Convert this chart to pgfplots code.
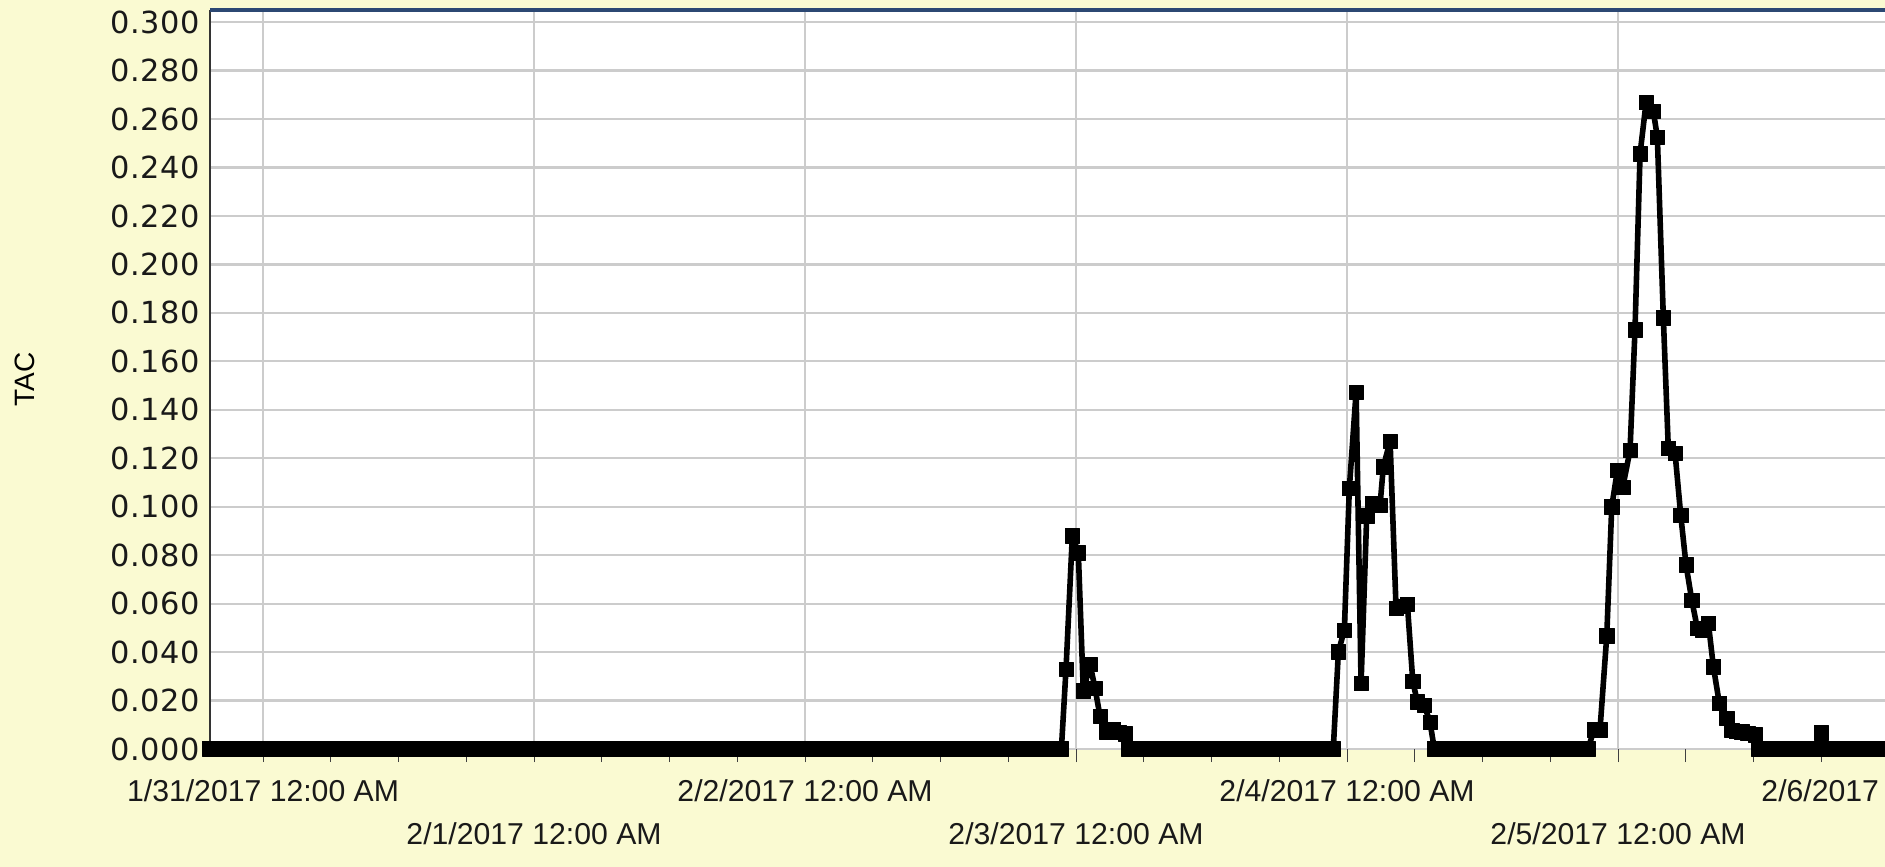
\documentclass[border=0pt]{standalone}
\usepackage{pgfplots}
\pgfplotsset{compat=1.18}
\usepackage{fontspec}
\setmainfont{Liberation Sans}
\newfontfamily\yfont[LetterSpace=2]{DejaVu Sans}
\definecolor{bgyellow}{RGB}{250,250,210}
\definecolor{gridgray}{RGB}{204,204,204}
\definecolor{topnavy}{RGB}{44,72,115}
\begin{document}
\begin{tikzpicture}
\fill[bgyellow] (-105pt,-59pt) rectangle (837.5pt,374.5pt);
\begin{axis}[
  name=ax, at={(0,0)}, anchor=south west,
  scale only axis, width=873.4pt, height=369.5pt,
  xmin=-4.7, xmax=150, ymin=0, ymax=0.305,
  clip=false,
  axis background/.style={fill=white},
  axis line style={draw=none},
  xtick pos=bottom, ytick pos=left,
  xtick={0,48,96,144},
  xticklabels={1/31/2017 12:00 AM,2/2/2017 12:00 AM,2/4/2017 12:00 AM,2/6/2017 12:00 AM},
  extra x ticks={24,72,120},
  extra x tick labels={2/1/2017 12:00 AM,2/3/2017 12:00 AM,2/5/2017 12:00 AM},
  extra x tick style={grid=major, xticklabel style={yshift=-21.5pt}},
  minor xtick={6,12,...,150},
  tick align=outside,
  major tick length=6.5pt, minor tick length=6.5pt,
  xtick style={black!75, line width=0.5pt},
  ytick={0,0.02,...,0.3001},
  ytick style={draw=none},
  scaled y ticks=false,
  yticklabel style={/pgf/number format/fixed, /pgf/number format/fixed zerofill, /pgf/number format/precision=3, /pgf/number format/assume math mode=true, font=\yfont\fontsize{15.2}{17}\selectfont, black!90, xshift=5pt},
  xticklabel style={font=\fontsize{15.1}{18}\selectfont, yshift=-5.3pt, black!90},
  grid=major,
  major grid style={gridgray, line width=1.1pt},
  ylabel={TAC},
  every axis y label/.style={at={(axis description cs:-0.1059,0.5)}, rotate=90, anchor=center, font=\fontsize{14}{16}\selectfont},
]
\addplot[black, line width=2.8pt, line join=round, mark=square*, mark size=3.6pt, mark options={solid, fill=black, draw=black, line width=0.3pt}] coordinates {
(-4.7,0) (-4,0) (-3,0) (-2,0) (-1,0) (0,0) (1,0) (2,0) (3,0) (4,0)
(5,0) (6,0) (7,0) (8,0) (9,0) (10,0) (11,0) (12,0) (13,0) (14,0)
(15,0) (16,0) (17,0) (18,0) (19,0) (20,0) (21,0) (22,0) (23,0) (24,0)
(25,0) (26,0) (27,0) (28,0) (29,0) (30,0) (31,0) (32,0) (33,0) (34,0)
(35,0) (36,0) (37,0) (38,0) (39,0) (40,0) (41,0) (42,0) (43,0) (44,0)
(45,0) (46,0) (47,0) (48,0) (49,0) (50,0) (51,0) (52,0) (53,0) (54,0)
(55,0) (56,0) (57,0) (58,0) (59,0) (60,0) (61,0) (62,0) (63,0) (64,0)
(65,0) (66,0) (67,0) (68,0) (69,0) (70,0) (70.7,0)
(71.11,0.033) (71.67,0.088) (72.20,0.081) (72.64,0.024) (73.24,0.035)
(73.68,0.025) (74.12,0.0136) (74.66,0.0071) (75.30,0.0081) (75.80,0.0070)
(76.34,0.0062) (76.6,0)
(77,0) (78,0) (79,0) (80,0) (81,0) (82,0) (83,0) (84,0) (85,0) (86,0)
(87,0) (88,0) (89,0) (90,0) (91,0) (92,0) (93,0) (94,0) (94.78,0)
(95.23,0.0401) (95.76,0.0491) (96.20,0.1075) (96.80,0.1473) (97.24,0.0271)
(97.74,0.0962) (98.28,0.1013) (98.92,0.1006) (99.21,0.1164) (99.81,0.1271)
(100.34,0.058) (100.84,0.059) (101.34,0.0598) (101.82,0.028) (102.22,0.0195)
(102.84,0.0181) (103.35,0.0109) (103.73,0)
(104,0) (105,0) (106,0) (107,0) (108,0) (109,0) (110,0) (111,0) (112,0)
(113,0) (114,0) (115,0) (116,0) (117,0) (117.34,0)
(117.87,0.0080) (118.40,0.0080) (119.00,0.0467) (119.44,0.100) (119.94,0.115)
(120.41,0.108) (121.06,0.1232) (121.50,0.173) (121.95,0.2457) (122.48,0.2668)
(123.12,0.2633) (123.48,0.2525) (124.01,0.178) (124.45,0.124) (125.05,0.122)
(125.55,0.0965) (126.02,0.076) (126.53,0.0614) (127.02,0.0498) (127.50,0.049)
(128.00,0.0518) (128.44,0.034) (128.97,0.0188) (129.62,0.0127) (130.07,0.0078)
(130.50,0.0072) (130.95,0.0071) (131.50,0.0065) (132.13,0.0058) (132.4,0)
(133,0) (134,0) (135,0) (136,0) (137,0) (137.5,0) (138,0.0067) (138.5,0)
(139,0) (140,0) (141,0) (142,0) (143,0) (144,0) (145,0) (146,0) (147,0)
(148,0) (149,0) (150,0)
};
\draw[black!80, line width=1.2pt] (rel axis cs:0,0) -- (rel axis cs:0,1);
\draw[topnavy, line width=2pt] (rel axis cs:0,1) -- (rel axis cs:1,1);
\end{axis}
\pgfresetboundingbox
\path[use as bounding box] (-105pt,-59pt) rectangle (837.5pt,374.5pt);
\end{tikzpicture}
\end{document}
